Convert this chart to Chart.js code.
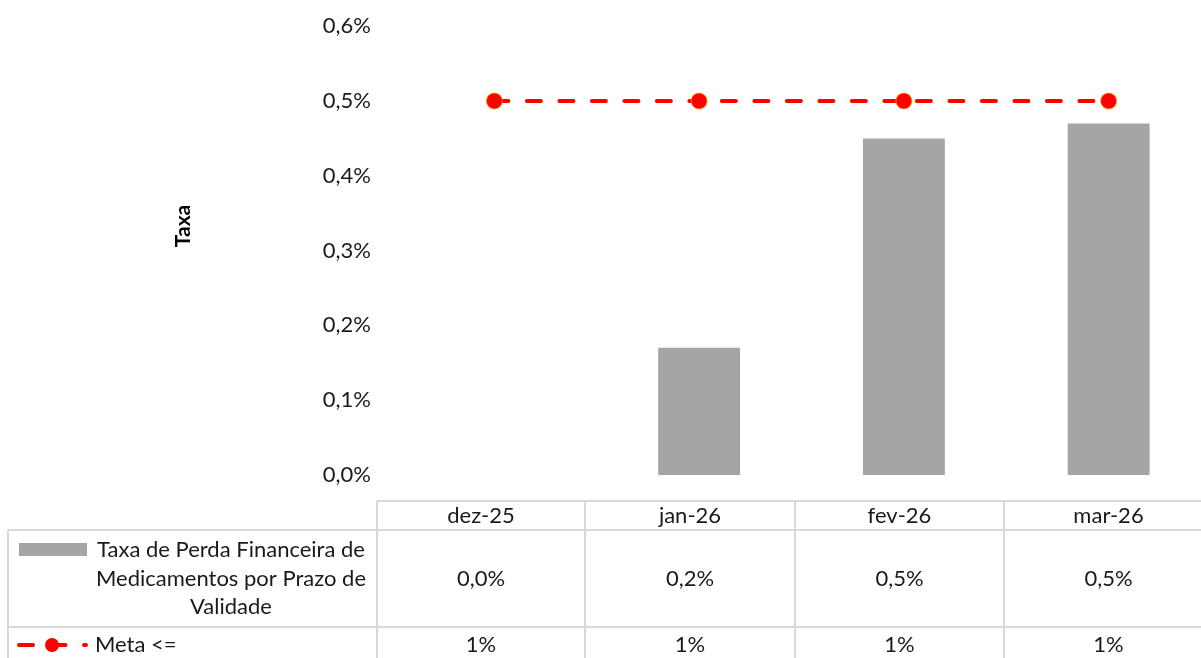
<!DOCTYPE html>
<html lang="pt-BR">
<head>
<meta charset="utf-8">
<title>Taxa de Perda Financeira de Medicamentos</title>
<script src="https://cdn.jsdelivr.net/npm/chart.js@4.4.1/dist/chart.umd.min.js"></script>
<style>
  html, body { margin: 0; padding: 0; background: #fff; overflow: hidden; }
  #wrap { position: relative; width: 1220px; height: 658px; }
</style>
</head>
<body>
<div id="wrap"><canvas id="taxa-chart" width="1220" height="658"></canvas></div>
<script>
const meses = ['dez-25', 'jan-26', 'fev-26', 'mar-26'];
const taxaPerda = [0, 0.17, 0.45, 0.47];
const meta = [0.5, 0.5, 0.5, 0.5];
const yTicks = [0, 0.1, 0.2, 0.3, 0.4, 0.5, 0.6];

const taxaLinhas = ['Taxa de Perda Financeira de', 'Medicamentos por Prazo de', 'Validade'];
const metaLabel = 'Meta <=';
const eixoY = 'Taxa';

const fonte = 'Lato, "Open Sans", sans-serif';
const corBarra = '#A5A5A5';
const corMeta = '#FF0000';
const corGrade = '#D9D9D9';
const corTexto = '#1a1a1a';

// colunas da tabela de dados (bordas em x)
const colunas = [377, 585, 795, 1004, 1213];
const linhasTabela = { topo: 501, cab: 530, meio: 627, fim: 660 };

function pct(v, casas) {
  const f = Math.pow(10, casas);
  return (Math.round(v * f + 1e-9) / f).toFixed(casas).replace('.', ',') + '%';
}

const tabelaPlugin = {
  id: 'tabelaDados',
  afterDraw(chart) {
    const ctx = chart.ctx;
    ctx.save();

    // título do eixo y
    ctx.fillStyle = '#000';
    ctx.font = 'bold 21px ' + fonte;
    ctx.translate(183, 226);
    ctx.rotate(-Math.PI / 2);
    ctx.textAlign = 'center';
    ctx.textBaseline = 'middle';
    ctx.fillText(eixoY, 0, 0);
    ctx.setTransform(1, 0, 0, 1, 0, 0);

    // grade da tabela
    ctx.strokeStyle = corGrade;
    ctx.lineWidth = 2;
    ctx.beginPath();
    ctx.moveTo(colunas[0], linhasTabela.topo);
    ctx.lineTo(colunas[colunas.length - 1], linhasTabela.topo);
    ctx.moveTo(8, linhasTabela.cab);
    ctx.lineTo(colunas[colunas.length - 1], linhasTabela.cab);
    ctx.moveTo(8, linhasTabela.meio);
    ctx.lineTo(colunas[colunas.length - 1], linhasTabela.meio);
    ctx.moveTo(8, linhasTabela.cab);
    ctx.lineTo(8, linhasTabela.fim);
    colunas.forEach((x) => {
      ctx.moveTo(x, linhasTabela.topo);
      ctx.lineTo(x, linhasTabela.fim);
    });
    ctx.stroke();

    // textos
    ctx.fillStyle = corTexto;
    ctx.font = '22px ' + fonte;
    ctx.textAlign = 'center';
    ctx.textBaseline = 'middle';
    meses.forEach((m, i) => {
      const cx = (colunas[i] + colunas[i + 1]) / 2;
      ctx.fillText(m, cx, 516);
      ctx.fillText(pct(taxaPerda[i], 1), cx, 579);
      ctx.fillText(pct(meta[i], 0), cx, 645);
    });

    // legenda da barra
    ctx.fillStyle = corBarra;
    ctx.fillRect(19, 543, 68, 13);
    ctx.fillStyle = corTexto;
    taxaLinhas.forEach((t, i) => ctx.fillText(t, 231, 550 + i * 28.5));

    // legenda da meta
    ctx.strokeStyle = corMeta;
    ctx.lineWidth = 4;
    ctx.lineCap = 'round';
    ctx.setLineDash([14, 18.5]);
    ctx.beginPath();
    ctx.moveTo(19, 645);
    ctx.lineTo(86, 645);
    ctx.stroke();
    ctx.setLineDash([]);
    ctx.fillStyle = corMeta;
    ctx.beginPath();
    ctx.arc(52, 645, 7, 0, Math.PI * 2);
    ctx.fill();
    ctx.fillStyle = corTexto;
    ctx.textAlign = 'left';
    ctx.fillText(metaLabel, 95, 645);

    ctx.restore();
  },
};

new Chart(document.getElementById('taxa-chart'), {
  type: 'bar',
  data: {
    labels: meses,
    datasets: [
      {
        type: 'line',
        label: metaLabel,
        data: meta,
        borderColor: corMeta,
        borderWidth: 4,
        borderDash: [14, 18.5],
        borderCapStyle: 'round',
        pointRadius: 8,
        pointBackgroundColor: corMeta,
        pointBorderColor: 'rgba(255,170,0,0.7)',
        pointBorderWidth: 1,
        fill: false,
        order: 0,
      },
      {
        label: taxaLinhas.join(' '),
        data: taxaPerda,
        backgroundColor: corBarra,
        barPercentage: 0.4,
        categoryPercentage: 1,
        order: 1,
      },
    ],
  },
  options: {
    responsive: false,
    animation: false,
    layout: { padding: { top: 14, bottom: 183, left: 0, right: 0 } },
    plugins: { legend: { display: false }, tooltip: { enabled: false } },
    scales: {
      x: { display: false, offset: true },
      y: {
        min: 0,
        max: 0.6,
        afterFit: (s) => { s.width = 392; },
        afterBuildTicks: (s) => { s.ticks = yTicks.map((v) => ({ value: v })); },
        grid: { display: false },
        border: { display: false },
        ticks: {
          padding: 13,
          color: corTexto,
          font: { family: fonte, size: 22 },
          callback: (v) => pct(v, 1),
        },
      },
    },
  },
  plugins: [tabelaPlugin],
});
</script>
</body>
</html>
